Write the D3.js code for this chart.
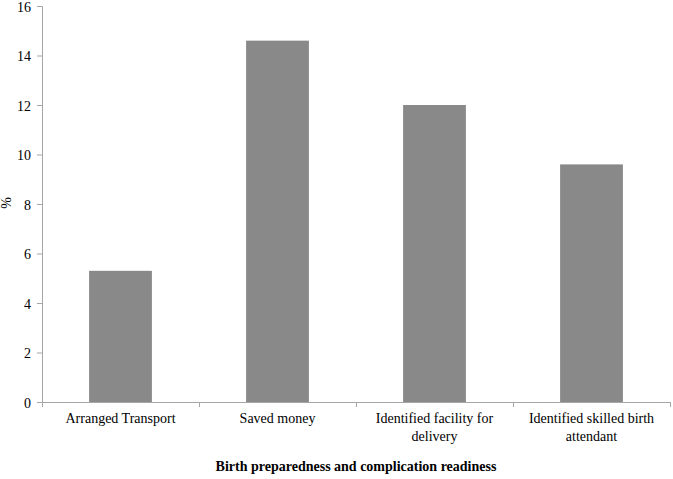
<!DOCTYPE html>
<html>
<head>
<meta charset="utf-8">
<script src="https://cdn.jsdelivr.net/npm/d3@7"></script>
<style>
  body { margin: 0; background: #fff; }
</style>
</head>
<body>
<svg id="chart" width="673" height="479"></svg>
<script>
(function () {
const categories = ["Arranged Transport", "Saved money", "Identified facility for delivery", "Identified skilled birth attendant"];
const categoryLines = [["Arranged Transport"], ["Saved money"], ["Identified facility for", "delivery"], ["Identified skilled birth", "attendant"]];
const values = [5.3, 14.6, 12.0, 9.6];
const yTicks = [0, 2, 4, 6, 8, 10, 12, 14, 16];
const xTitle = "Birth preparedness and complication readiness";
const yTitle = "%";

const FONT = "'Liberation Serif', 'Times New Roman', serif";
const svg = d3.select("#chart").attr("font-family", FONT);
const mLeft = 42, mRight = 670, mTop = 6, mBottom = 402;
const axisColor = "#a6a6a6";

const x = d3.scaleBand().domain(categories).range([mLeft, mRight]).paddingInner(0).paddingOuter(0);
const y = d3.scaleLinear().domain([0, 16]).range([mBottom, mTop]);

// Bars
const barW = x.bandwidth() / 2.5;
svg.append("g").selectAll("rect").data(values).join("rect")
  .attr("x", (d, i) => x(categories[i]) + (x.bandwidth() - barW) / 2)
  .attr("y", d => y(d))
  .attr("width", barW)
  .attr("height", d => y(0) - y(d))
  .attr("fill", "#898989");

// Y axis
const yAxis = svg.append("g").attr("transform", `translate(${mLeft},0)`)
  .call(d3.axisLeft(y).tickValues(yTicks).tickSize(5).tickPadding(6).tickFormat(d3.format("d")));
yAxis.attr("font-family", FONT).attr("font-size", 14);
yAxis.select(".domain").attr("stroke", axisColor);
yAxis.selectAll(".tick line").attr("stroke", axisColor);
yAxis.selectAll(".tick text").style("font-family", FONT).style("font-size", "14px").attr("fill", "#000")
  .attr("dy", "0.36em");

// X axis line + ticks at band boundaries
const xg = svg.append("g");
xg.append("line").attr("x1", mLeft).attr("x2", mRight).attr("y1", mBottom + 0.5).attr("y2", mBottom + 0.5)
  .attr("stroke", axisColor);
const bounds = categories.map(c => x(c)).concat([x(categories[categories.length - 1]) + x.bandwidth()]);
xg.selectAll("line.tk").data(bounds).join("line").attr("class", "tk")
  .attr("x1", d => Math.round(d) + 0.5).attr("x2", d => Math.round(d) + 0.5)
  .attr("y1", mBottom).attr("y2", mBottom + 5).attr("stroke", axisColor);

// Category labels
const lab = svg.append("g").selectAll("text").data(categoryLines).join("text")
  .attr("text-anchor", "middle")
  .style("font-family", FONT)
  .style("font-size", "14px")
  .attr("transform", (d, i) => `translate(${x(categories[i]) + x.bandwidth() / 2},${mBottom + 21})`);
lab.selectAll("tspan").data(d => d).join("tspan")
  .attr("x", 0).attr("dy", (d, i) => i === 0 ? 0 : 18).text(d => d);

// Axis titles
svg.append("text").attr("x", (mLeft + mRight) / 2).attr("y", 471).attr("text-anchor", "middle")
  .style("font-family", FONT).style("font-size", "14px").style("font-weight", "bold").text(xTitle);
svg.append("text").attr("transform", "translate(11,203) rotate(-90)").attr("text-anchor", "middle")
  .style("font-family", FONT).style("font-size", "14px").text(yTitle);
})();
</script>
</body>
</html>
